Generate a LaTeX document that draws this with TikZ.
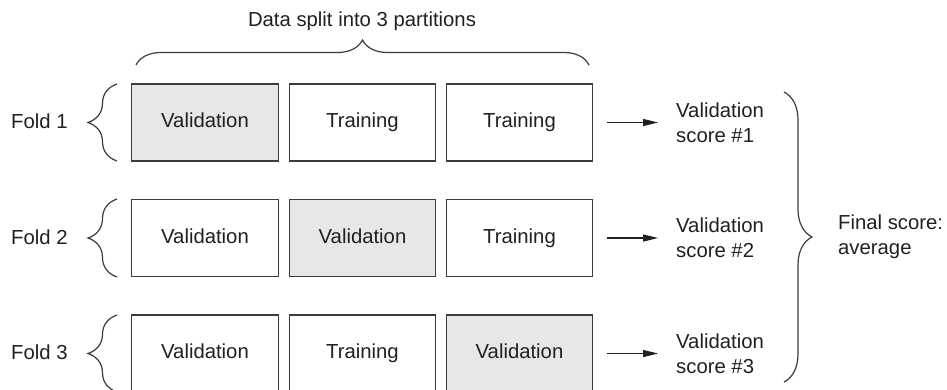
\documentclass[tikz,border=0pt]{standalone}
\usepackage{fontspec}
\setmainfont{Liberation Sans}
\usetikzlibrary{decorations.pathreplacing,arrows.meta}
\definecolor{ink}{HTML}{231F20}
\definecolor{edgegray}{HTML}{3C3C3C}
\definecolor{shade}{HTML}{E6E7E8}
\begin{document}
\begin{tikzpicture}[x=1pt,y=-1pt,
  font=\fontsize{20.3}{25}\selectfont, text=ink,
  part/.style={draw=edgegray, line width=1.3pt, minimum width=146.5pt, minimum height=77pt, inner sep=0pt, outer sep=0pt, text height=14.5pt, text depth=4.5pt},
  val/.style={part, fill=shade},
  lbl/.style={inner sep=0pt, anchor=west, align=left},
  curly/.style={draw=edgegray, line width=1.2pt, decorate, decoration={brace, amplitude=#1}},
  flow/.style={draw=ink, line width=1.2pt, -{Triangle[length=15pt,width=7pt]}}]
\clip (0,0) rectangle (947,389);
\fill[white] (0,0) rectangle (947,389);
% title and top brace
\node[inner sep=0pt] (top) at (362,21) {Data split into 3 partitions};
\draw[curly=25pt] (136,65) -- (589,65);
% row 1
\node[val]  (a1) at (205,122.5)   {Validation};
\node[part] (b1) at (362.5,122.5) {Training};
\node[part] (c1) at (519.5,122.5) {Training};
% row 2
\node[part] (a2) at (205,238)   {Validation};
\node[val]  (b2) at (362.5,238) {Validation};
\node[part] (c2) at (519.5,238) {Training};
% row 3
\node[part] (a3) at (205,353.5)   {Validation};
\node[part] (b3) at (362.5,353.5) {Training};
\node[val]  (c3) at (519.5,353.5) {Validation};
% fold labels and braces
\node[lbl] (f1) at (11,121) {Fold 1};
\node[lbl] (f2) at (11,237) {Fold 2};
\node[lbl] (f3) at (11,352.5) {Fold 3};
\draw[curly=29pt] (117,161) -- (117,84);
\draw[curly=29pt] (117,277) -- (117,199);
\draw[curly=29pt] (117,392) -- (117,315);
% scores
\node[lbl] (s1) at (676,122.5) {Validation\\score \#1};
\node[lbl] (s2) at (676,238)   {Validation\\score \#2};
\node[lbl] (s3) at (676,353.5) {Validation\\score \#3};
\draw[flow, shorten <=14pt, shorten >=18pt] (c1.east) -- (s1.west);
\draw[flow, shorten <=14pt, shorten >=18pt] (c2.east) -- (s2.west);
\draw[flow, shorten <=14pt, shorten >=18pt] (c3.east) -- (s3.west);
% final
\draw[curly=28pt] (784,92) -- (784,382);
\node[lbl] (fs) at (838,236.5) {Final score:\\average};
\end{tikzpicture}
\end{document}
